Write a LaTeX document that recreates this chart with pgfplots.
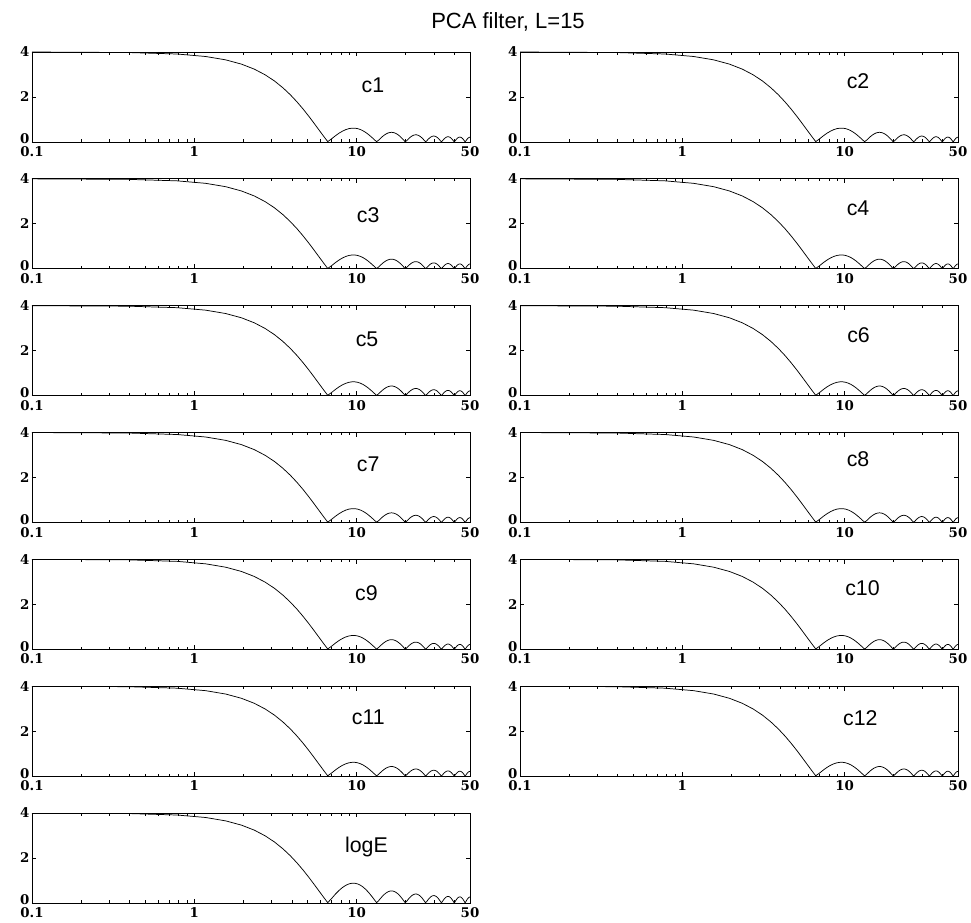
\documentclass[border=0pt]{standalone}
\usepackage{fontspec}
\setmainfont{DejaVu Serif}
\newfontfamily\labelfont{Liberation Sans}
\usepackage{pgfplots}
\usepackage{pgfplotstable}
\pgfplotsset{compat=1.18}

% Magnitude response of the 15-tap PCA filter, sampled every 100/256 Hz.
% Column e: log-energy filter, column c: cepstral coefficient filters.
\pgfplotstableread{
f e c
0.1 3.999 3.999
0.3906 3.977 3.977
0.7813 3.911 3.911
1.1719 3.801 3.801
1.5625 3.650 3.650
1.9531 3.461 3.461
2.3438 3.238 3.238
2.7344 2.985 2.985
3.125 2.708 2.708
3.5156 2.410 2.410
3.9063 2.100 2.100
4.2969 1.781 1.781
4.6875 1.460 1.460
5.0781 1.143 1.143
5.4688 0.834 0.834
5.8594 0.541 0.541
6.25 0.267 0.267
6.6406 0.016 0.016
7.0313 0.208 0.146
7.4219 0.402 0.281
7.8125 0.564 0.395
8.2031 0.693 0.485
8.5938 0.788 0.552
8.9844 0.850 0.595
9.375 0.879 0.615
9.7656 0.878 0.615
10.156 0.848 0.594
10.547 0.793 0.555
10.938 0.716 0.501
11.328 0.620 0.434
11.719 0.511 0.358
12.109 0.392 0.274
12.5 0.267 0.187
12.891 0.140 0.098
13.281 0.016 0.013
13.672 0.102 0.082
14.063 0.210 0.168
14.453 0.306 0.245
14.844 0.387 0.310
15.234 0.452 0.362
15.625 0.499 0.399
16.016 0.527 0.422
16.406 0.537 0.430
16.797 0.529 0.423
17.188 0.503 0.402
17.578 0.462 0.370
17.969 0.408 0.326
18.359 0.342 0.274
18.75 0.267 0.214
19.141 0.186 0.149
19.531 0.101 0.081
19.922 0.017 0.014
20.313 0.066 0.053
20.703 0.143 0.114
21.094 0.214 0.171
21.484 0.275 0.220
21.875 0.325 0.260
22.266 0.363 0.290
22.656 0.388 0.310
23.047 0.399 0.319
23.438 0.397 0.318
23.828 0.381 0.305
24.219 0.354 0.283
24.609 0.315 0.252
25 0.267 0.214
25.391 0.211 0.169
25.781 0.149 0.119
26.172 0.084 0.067
26.563 0.018 0.014
26.953 0.048 0.038
27.344 0.110 0.088
27.734 0.168 0.134
28.125 0.219 0.175
28.516 0.261 0.209
28.906 0.294 0.235
29.297 0.317 0.254
29.688 0.328 0.262
30.078 0.329 0.263
30.469 0.318 0.254
30.859 0.297 0.238
31.25 0.267 0.214
31.641 0.228 0.182
32.031 0.182 0.146
32.422 0.130 0.104
32.813 0.076 0.061
33.203 0.019 0.015
33.594 0.038 0.030
33.984 0.092 0.074
34.375 0.143 0.114
34.766 0.188 0.150
35.156 0.226 0.181
35.547 0.256 0.205
35.938 0.278 0.222
36.328 0.290 0.232
36.719 0.292 0.234
37.109 0.284 0.227
37.5 0.267 0.214
37.891 0.241 0.193
38.281 0.207 0.166
38.672 0.167 0.134
39.063 0.121 0.097
39.453 0.072 0.058
39.844 0.021 0.017
40.234 0.031 0.025
40.625 0.081 0.065
41.016 0.128 0.102
41.406 0.170 0.136
41.797 0.207 0.166
42.188 0.236 0.189
42.578 0.257 0.206
42.969 0.269 0.215
43.359 0.273 0.218
43.75 0.267 0.214
44.141 0.252 0.202
44.531 0.229 0.183
44.922 0.198 0.158
45.313 0.161 0.129
45.703 0.118 0.094
46.094 0.072 0.058
46.484 0.023 0.018
46.875 0.026 0.021
47.266 0.075 0.060
47.656 0.120 0.096
48.047 0.162 0.130
48.438 0.198 0.158
48.828 0.227 0.182
49.219 0.249 0.199
49.609 0.262 0.210
50 0.267 0.214
}\filterresp

\pgfplotsset{
  pcapanel/.style={
    scale only axis,
    width=328.5pt, height=67.5pt,
    anchor=north west,
    xmin=0.1, xmax=50, ymin=0, ymax=4,
    xtick={0.1,1,10,50}, xticklabels={0.1,1,10,50},
    minor xtick={0.2,0.3,0.4,0.5,0.6,0.7,0.8,0.9,2,3,4,5,6,7,8,9,20,30,40},
    ytick={0,2,4}, yticklabels={\raisebox{4.5pt}{0},2,4},
    tick align=inside,
    major tick length=3.3pt, minor tick length=2pt,
    every tick/.style={black, line width=0.5pt},
    axis line style={black, line width=0.6pt},
    ticklabel style={font=\bfseries\fontsize{10}{12}\selectfont},
    xticklabel style={yshift=0pt},
    yticklabel style={xshift=1.5pt},
  },
}
\tikzset{
  pcacurve/.style={black, line width=0.55pt},
  pcatag/.style={font=\labelfont\fontsize{16}{18}\selectfont},
}

\begin{document}
\begin{tikzpicture}
\path[use as bounding box] (0,0) rectangle (728.25pt,-692.25pt);
\node[font=\labelfont\fontsize{16.5}{18}\selectfont] at (381pt,-16.5pt) {PCA filter, L=15};

% row 1
\begin{semilogxaxis}[pcapanel, at={(24pt,-39pt)}]
  \addplot[pcacurve, no marks] table[x=f, y=c] {\filterresp};
  \node[pcatag] at (axis cs:12.6,2.5) {c1};
\end{semilogxaxis}
\begin{semilogxaxis}[pcapanel, at={(390pt,-39pt)}]
  \addplot[pcacurve, no marks] table[x=f, y=c] {\filterresp};
  \node[pcatag] at (axis cs:12.1,2.7) {c2};
\end{semilogxaxis}
% row 2
\begin{semilogxaxis}[pcapanel, at={(24pt,-134.125pt)}]
  \addplot[pcacurve, no marks] table[x=f, y=c] {\filterresp};
  \node[pcatag] at (axis cs:11.8,2.4) {c3};
\end{semilogxaxis}
\begin{semilogxaxis}[pcapanel, at={(390pt,-134.125pt)}]
  \addplot[pcacurve, no marks] table[x=f, y=c] {\filterresp};
  \node[pcatag] at (axis cs:12.1,2.7) {c4};
\end{semilogxaxis}
% row 3
\begin{semilogxaxis}[pcapanel, at={(24pt,-229.25pt)}]
  \addplot[pcacurve, no marks] table[x=f, y=c] {\filterresp};
  \node[pcatag] at (axis cs:11.6,2.5) {c5};
\end{semilogxaxis}
\begin{semilogxaxis}[pcapanel, at={(390pt,-229.25pt)}]
  \addplot[pcacurve, no marks] table[x=f, y=c] {\filterresp};
  \node[pcatag] at (axis cs:12.2,2.7) {c6};
\end{semilogxaxis}
% row 4
\begin{semilogxaxis}[pcapanel, at={(24pt,-324.375pt)}]
  \addplot[pcacurve, no marks] table[x=f, y=c] {\filterresp};
  \node[pcatag] at (axis cs:11.8,2.6) {c7};
\end{semilogxaxis}
\begin{semilogxaxis}[pcapanel, at={(390pt,-324.375pt)}]
  \addplot[pcacurve, no marks] table[x=f, y=c] {\filterresp};
  \node[pcatag] at (axis cs:12.1,2.8) {c8};
\end{semilogxaxis}
% row 5
\begin{semilogxaxis}[pcapanel, at={(24pt,-419.5pt)}]
  \addplot[pcacurve, no marks] table[x=f, y=c] {\filterresp};
  \node[pcatag] at (axis cs:11.5,2.5) {c9};
\end{semilogxaxis}
\begin{semilogxaxis}[pcapanel, at={(390pt,-419.5pt)}]
  \addplot[pcacurve, no marks] table[x=f, y=c] {\filterresp};
  \node[pcatag] at (axis cs:12.9,2.7) {c10};
\end{semilogxaxis}
% row 6
\begin{semilogxaxis}[pcapanel, at={(24pt,-514.625pt)}]
  \addplot[pcacurve, no marks] table[x=f, y=c] {\filterresp};
  \node[pcatag] at (axis cs:11.8,2.6) {c11};
\end{semilogxaxis}
\begin{semilogxaxis}[pcapanel, at={(390pt,-514.625pt)}]
  \addplot[pcacurve, no marks] table[x=f, y=c] {\filterresp};
  \node[pcatag] at (axis cs:12.5,2.6) {c12};
\end{semilogxaxis}
% row 7
\begin{semilogxaxis}[pcapanel, at={(24pt,-609.75pt)}]
  \addplot[pcacurve, no marks] table[x=f, y=e] {\filterresp};
  \node[pcatag] at (axis cs:11.5,2.5) {logE};
\end{semilogxaxis}
\end{tikzpicture}
\end{document}
